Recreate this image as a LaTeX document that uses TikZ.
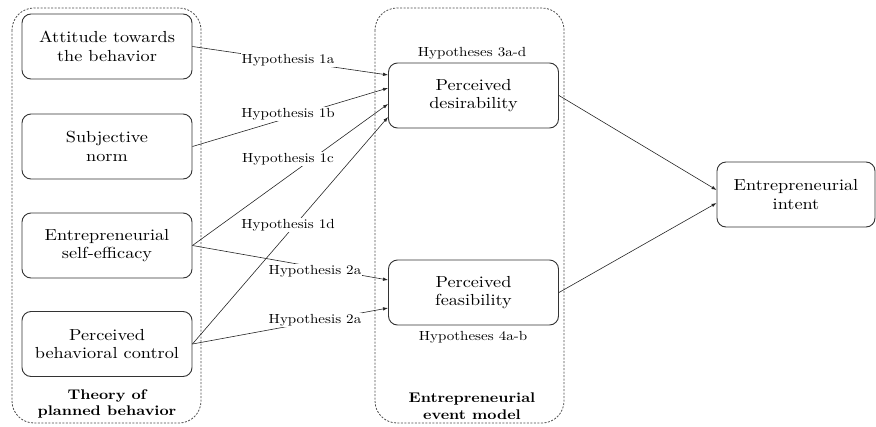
\documentclass[tikz,border=0pt]{standalone}
\usepackage{fontspec}
\setmainfont{lmroman10-regular.otf}[BoldFont=lmroman10-bold.otf, FakeStretch=1.14]
\usetikzlibrary{arrows.meta}

\tikzset{
  box/.style={draw=black!80, line width=0.9pt, rounded corners=9pt, minimum width=170pt,
    minimum height=65pt, align=center, font=\fontsize{16}{18.5}\selectfont},
  group/.style={draw=black!70, line width=0.8pt, dash pattern=on 2pt off 1.5pt, rounded corners=22pt},
  hyp/.style={fill=white, inner sep=1pt, font=\fontsize{13.2}{15}\selectfont},
  conn/.style={draw=black!85, line width=0.6pt, -{Latex[length=5pt,width=3.5pt]}},
  grouplabel/.style={align=center, font=\bfseries\fontsize{14}{16.5}\selectfont}
}

\begin{document}
\begin{tikzpicture}[x=1pt,y=-1pt]
  \useasboundingbox (0,0) rectangle (876,426);
  % the two models
  \draw[group] (12,8) rectangle (201,423);
  \draw[group] (375,8) rectangle (564,423);
  \node[grouplabel] (tpb) at (107,404) {Theory of\\planned behavior};
  \node[grouplabel] (eem) at (472,406) {Entrepreneurial\\event model};

  \node[box] (att) at (107,46.5) {Attitude towards\\the behavior};
  \node[box] (norm) at (107,146.5) {Subjective\\norm};
  \node[box] (eff) at (107,245.5) {Entrepreneurial\\self-efficacy};
  \node[box] (pbc) at (107,344) {Perceived\\behavioral control};
  \node[box] (des) at (473.5,95.5) {Perceived\\desirability};
  \node[box] (fea) at (473.5,292.5) {Perceived\\feasibility};
  \node[box, minimum width=158pt] (intent) at (796,194.5) {Entrepreneurial\\intent};

  \node[hyp] (h3) at (472,53) {Hypotheses 3a-d};
  \node[hyp] (h4) at (473,337) {Hypotheses 4a-b};

  \draw[conn] (att.east) -- ([yshift=20.5pt]des.west);
  \draw[conn] (norm.east) -- ([yshift=7.5pt]des.west);
  \draw[conn] (eff.east) -- ([yshift=-8.5pt]des.west);
  \draw[conn] (pbc.east) -- ([yshift=-21.5pt]des.west);
  \draw[conn] (eff.east) -- ([yshift=12.5pt]fea.west);
  \draw[conn] (pbc.east) -- ([yshift=-15.5pt]fea.west);
  \draw[conn] (des.east) -- ([yshift=4.5pt]intent.west);
  \draw[conn] (fea.east) -- ([yshift=-8.5pt]intent.west);

  % labels over the lines
  \node[hyp] (h1a) at (288,60) {Hypothesis 1a};
  \node[hyp] (h1b) at (288,114) {Hypothesis 1b};
  \node[hyp] (h1c) at (288,159) {Hypothesis 1c};
  \node[hyp] (h1d) at (288,225) {Hypothesis 1d};
  \node[hyp] (h2a) at (315,271) {Hypothesis 2a};
  \node[hyp] (h2b) at (315,320) {Hypothesis 2a};
\end{tikzpicture}
\end{document}
